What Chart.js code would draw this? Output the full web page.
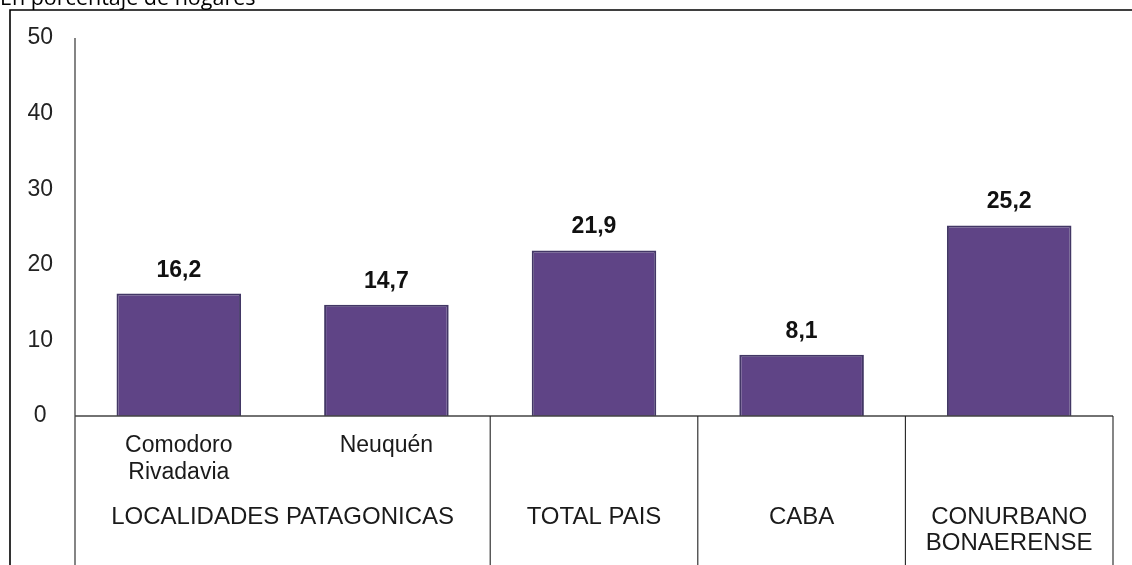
<!DOCTYPE html>
<html>
<head>
<meta charset="utf-8">
<script src="https://cdn.jsdelivr.net/npm/chart.js@4.4.1/dist/chart.umd.min.js"></script>
<style>
  html, body { margin: 0; padding: 0; background: #fff; overflow: hidden; }
  canvas { display: block; }
</style>
</head>
<body>
<canvas id="chart" width="1132" height="565"></canvas>
<script>
// data
const categories = ['Comodoro Rivadavia', 'Neuquén', 'TOTAL PAIS', 'CABA', 'CONURBANO BONAERENSE'];
const subLabels = [['Comodoro', 'Rivadavia'], ['Neuquén'], [], [], []];
const groups = [
    { label: ['LOCALIDADES PATAGONICAS'], from: 0, to: 1 },
    { label: ['TOTAL PAIS'], from: 2, to: 2 },
    { label: ['CABA'], from: 3, to: 3 },
    { label: ['CONURBANO', 'BONAERENSE'], from: 4, to: 4 }
];
const values = [16.2, 14.7, 21.9, 8.1, 25.2];
const yTicks = [0, 10, 20, 30, 40, 50];
const title = 'En porcentaje de hogares';

const fmt = v => v.toFixed(1).replace('.', ',');
const FONT = '"Liberation Sans", Arial, sans-serif';

// frame, axis lines, group table under the bars and value labels
const decorPlugin = {
    id: 'decor',
    afterDraw(chart) {
        const ctx = chart.ctx;
        const area = chart.chartArea;
        const x = chart.scales.x;
        const H = chart.height;
        const last = categories.length - 1;
        const edge = i => (x.getPixelForValue(i) + x.getPixelForValue(i + 1)) / 2;
        ctx.save();

        // title (cut at the top, like the source)
        ctx.fillStyle = '#000';
        ctx.font = '21.5px "Open Sans", sans-serif';
        ctx.textAlign = 'left';
        ctx.textBaseline = 'alphabetic';
        ctx.fillText(title, 0, 5);

        // outer frame
        ctx.strokeStyle = '#000';
        ctx.lineWidth = 1.6;
        ctx.beginPath();
        ctx.moveTo(10, H);
        ctx.lineTo(10, 10);
        ctx.lineTo(chart.width, 10);
        ctx.stroke();

        // axis lines
        ctx.strokeStyle = '#444';
        ctx.lineWidth = 1.3;
        ctx.beginPath();
        ctx.moveTo(area.left, area.top);
        ctx.lineTo(area.left, H);
        ctx.moveTo(area.left, area.bottom);
        ctx.lineTo(area.right, area.bottom);
        ctx.stroke();

        // group separators
        ctx.strokeStyle = '#222';
        ctx.lineWidth = 1.1;
        groups.forEach(g => {
            const right = g.to === last ? area.right : edge(g.to);
            ctx.beginPath();
            ctx.moveTo(right, area.bottom);
            ctx.lineTo(right, H);
            ctx.stroke();
        });

        // sub labels
        ctx.fillStyle = '#1a1a1a';
        ctx.font = '23px ' + FONT;
        ctx.textAlign = 'center';
        ctx.textBaseline = 'middle';
        subLabels.forEach((lines, i) => {
            const cx = x.getPixelForValue(i);
            lines.forEach((t, j) => ctx.fillText(t, cx, area.bottom + 30 + j * 27));
        });

        // group labels
        ctx.font = '24px ' + FONT;
        groups.forEach(g => {
            const left = g.from === 0 ? area.left : edge(g.from - 1);
            const right = g.to === last ? area.right : edge(g.to);
            const cx = (left + right) / 2;
            g.label.forEach((t, j) => ctx.fillText(t, cx, area.bottom + 101 + j * 26));
        });

        // value labels
        ctx.fillStyle = '#111';
        ctx.font = 'bold 23px ' + FONT;
        ctx.textBaseline = 'alphabetic';
        const meta = chart.getDatasetMeta(0);
        meta.data.forEach((bar, i) => {
            ctx.fillText(fmt(values[i]), bar.x, bar.y - 17);
        });

        ctx.restore();
    }
};

new Chart(document.getElementById('chart'), {
    type: 'bar',
    data: {
        labels: categories,
        datasets: [{
            data: values,
            backgroundColor: '#5f4486',
            borderColor: '#423765',
            borderWidth: 2,
            borderSkipped: 'bottom',
            categoryPercentage: 1,
            barPercentage: 0.6
        }]
    },
    options: {
        responsive: false,
        animation: false,
        layout: { padding: { left: 10, top: 38, right: 19, bottom: 149 } },
        plugins: {
            legend: { display: false },
            tooltip: { enabled: false }
        },
        scales: {
            x: { display: false },
            y: {
                min: 0,
                max: 50,
                afterFit(scale) { scale.width = 65; },
                afterBuildTicks(scale) { scale.ticks = yTicks.map(v => ({ value: v })); },
                grid: { display: false, drawTicks: false },
                border: { display: false },
                ticks: {
                    crossAlign: 'center',
                    padding: 22,
                    color: '#222',
                    font: { family: FONT, size: 23 }
                }
            }
        }
    },
    plugins: [decorPlugin]
});
</script>
</body>
</html>
